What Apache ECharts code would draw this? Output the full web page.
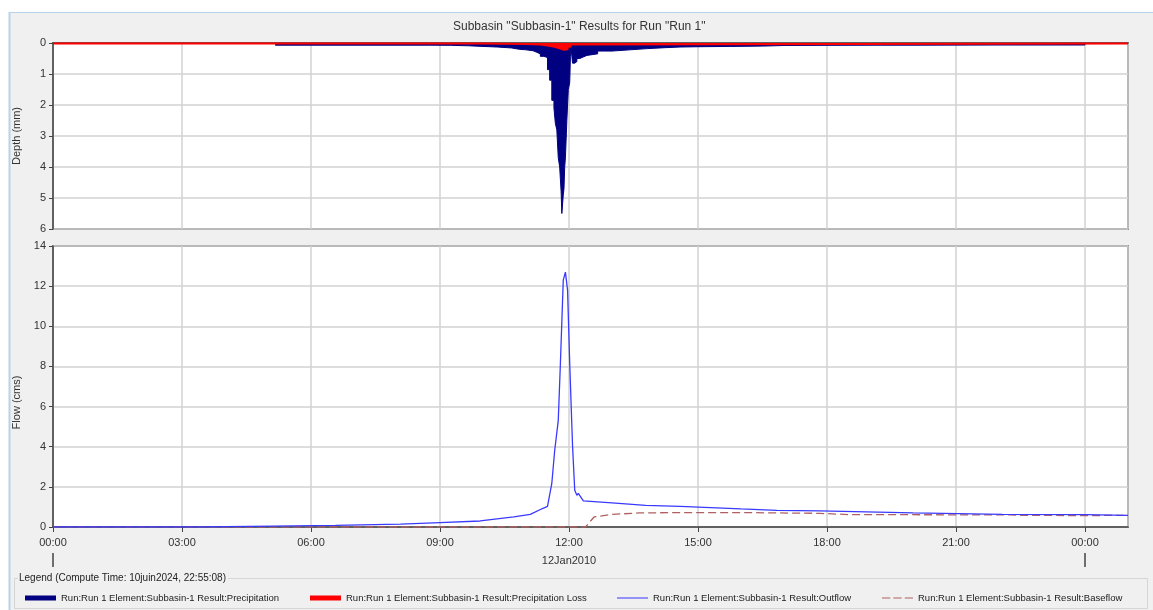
<!DOCTYPE html>
<html>
<head>
<meta charset="utf-8">
<script src="https://cdn.jsdelivr.net/npm/echarts@6/dist/echarts.min.js"></script>
<style>
html,body{margin:0;padding:0;background:#fff;}
#c{width:1153px;height:610px;}
</style>
</head>
<body>
<div id="c"></div>
<script>
// ---------- data (times as HH:MM on 12Jan2010, "24:00"+ = next day) ----------
const chartTitle = 'Subbasin "Subbasin-1" Results for Run "Run 1"';
const dateLabel = '12Jan2010';
const legendTitle = 'Legend (Compute Time: 10juin2024, 22:55:08)';
const seriesNames = [
  'Run:Run 1 Element:Subbasin-1 Result:Precipitation',
  'Run:Run 1 Element:Subbasin-1 Result:Precipitation Loss',
  'Run:Run 1 Element:Subbasin-1 Result:Outflow',
  'Run:Run 1 Element:Subbasin-1 Result:Baseflow'
];

const precipTimes = ['05:10','06:00','07:00','08:00','08:45','09:15','09:40','10:00','10:20','10:40','10:50','11:00','11:10','11:15','11:20','11:25','11:30','11:33','11:36','11:39','11:41','11:43','11:45','11:47','11:49','11:50','11:51','11:52','11:53','11:54','11:55','11:57','11:59','12:01','12:02','12:03','12:05','12:08','12:11','12:15','12:20','12:25','12:40','13:00','13:25','13:50','14:15','14:35','15:00','15:45','16:30','17:00','18:00','19:15','20:00','22:00','24:00'];
const precipDepth = [0.07,0.07,0.07,0.07,0.075,0.09,0.11,0.13,0.16,0.20,0.22,0.25,0.30,0.35,0.43,0.47,0.86,1.2,1.85,2.1,2.6,2.8,3.7,4.0,4.8,5.5,5.45,4.9,4.7,4.0,3.7,2.5,1.5,1.28,0.43,0.2,0.65,0.6,0.5,0.45,0.4,0.35,0.26,0.22,0.18,0.15,0.13,0.12,0.11,0.10,0.08,0.075,0.07,0.07,0.065,0.065,0];

const lossTimes = ['00:00','08:00','10:00','11:00','11:20','11:30','11:40','11:48','11:53','11:58','12:02','12:10','25:00'];
const lossDepth = [0.02,0.02,0.03,0.05,0.08,0.12,0.18,0.22,0.20,0.12,0.05,0.02,0.02];

const flowTimes = ['00:00','03:28','03:29','05:07','05:08','06:34','06:35','08:05','09:00','09:56','10:43','11:06','11:23','11:30','11:36','11:40','11:45','11:48','11:52','11:55','11:58','12:01','12:05','12:08','12:11','12:13','12:20','13:00','13:47','14:35','16:00','16:50','17:50','18:55','20:00','22:05','24:00','25:00'];
const outflow = [0,0,0.04,0.04,0.08,0.08,0.12,0.14,0.22,0.30,0.50,0.63,0.92,1.03,2.17,3.8,5.3,8.15,12.3,12.7,11.8,8.15,4.0,1.83,1.58,1.68,1.3,1.2,1.08,1.03,0.9,0.83,0.8,0.75,0.7,0.63,0.62,0.58];

const baseTimes = ['00:00','12:23','12:35','13:00','13:38','14:35','16:00','17:50','18:30','22:15','22:30','24:00','25:00'];
const baseflow = [0,0,0.5,0.63,0.70,0.72,0.72,0.68,0.62,0.60,0.58,0.57,0.58];

// ---------- helpers ----------
function hrs(s){ const p = s.split(':').map(Number); return p[0] + p[1]/60; }
function pairs(t, v){ return t.map((s,i)=>[hrs(s), v[i]]); }
function hhmm(v){ const h = ((Math.round(v) % 24) + 24) % 24; return (h<10?'0':'') + h + ':00'; }

const FONT = 'Liberation Sans, Arial, sans-serif';
const gridLine = {show:true, lineStyle:{color:'#d2d2d2', width:1.5}};
const axisLineDark = {show:true, lineStyle:{color:'#444', width:1.5}};
const legendText = {fontFamily: FONT, fontSize: 9.5, color: '#222'};

const chart = echarts.init(document.getElementById('c'), null, {renderer:'canvas'});

const option = {
  backgroundColor: '#ffffff',
  animation: false,
  title: {
    text: chartTitle, left: 448, top: 16,
    textStyle: {fontFamily: FONT, fontSize: 12, fontWeight: 'normal', color: '#333'}
  },
  grid: [
    {left: 53, right: 25, top: 43, height: 186, show: true, backgroundColor: '#fff', borderColor: '#444', borderWidth: 1.5, containLabel: false},
    {left: 53, right: 25, top: 246, height: 281, show: true, backgroundColor: '#fff', borderColor: '#444', borderWidth: 1.5, containLabel: false}
  ],
  xAxis: [
    {type: 'value', gridIndex: 0, min: 0, max: 25, interval: 3, axisLine: axisLineDark,
     axisTick: {show: false}, axisLabel: {show: false}, splitLine: gridLine},
    {type: 'value', gridIndex: 1, min: 0, max: 25, interval: 3, axisLine: axisLineDark,
     axisTick: {show: true, length: 5, lineStyle: {color: '#444'}},
     axisLabel: {show: true, margin: 10, fontFamily: FONT, fontSize: 11, color: '#333', formatter: hhmm, showMaxLabel: false},
     splitLine: gridLine}
  ],
  yAxis: [
    {type: 'value', gridIndex: 0, min: 0, max: 6, interval: 1, inverse: true,
     name: 'Depth (mm)', nameLocation: 'middle', nameGap: 31,
     nameTextStyle: {fontFamily: FONT, fontSize: 11, color: '#333'},
     axisLine: axisLineDark, axisTick: {show: true, length: 4, lineStyle: {color: '#444'}},
     axisLabel: {margin: 7, fontFamily: FONT, fontSize: 11, color: '#333'}, splitLine: gridLine},
    {type: 'value', gridIndex: 1, min: 0, max: 14, interval: 2,
     name: 'Flow (cms)', nameLocation: 'middle', nameGap: 31,
     nameTextStyle: {fontFamily: FONT, fontSize: 11, color: '#333', padding: [0, 32, 0, 0]},
     axisLine: axisLineDark, axisTick: {show: true, length: 4, lineStyle: {color: '#444'}},
     axisLabel: {margin: 7, fontFamily: FONT, fontSize: 11, color: '#333'}, splitLine: gridLine}
  ],
  legend: [
    {data: [seriesNames[0]], left: 20, top: 588, icon: 'rect', itemWidth: 31, itemHeight: 5, itemGap: 0,
     textStyle: legendText, selectedMode: false},
    {data: [seriesNames[1]], left: 305, top: 588, icon: 'rect', itemWidth: 31, itemHeight: 5, itemGap: 0,
     textStyle: legendText, selectedMode: false},
    {data: [seriesNames[2]], left: 612, top: 588, icon: 'path://M0,0H30V1H0Z', itemWidth: 31, itemHeight: 2, itemGap: 0,
     textStyle: legendText, selectedMode: false},
    {data: [seriesNames[3]], left: 877, top: 588, icon: 'path://M0,0H8V1H0Z M11,0H19V1H11Z M22,0H30V1H22Z', itemWidth: 31, itemHeight: 2, itemGap: 0,
     textStyle: legendText, selectedMode: false}
  ],
  series: [
    {name: seriesNames[0], type: 'line', xAxisIndex: 0, yAxisIndex: 0, step: 'end', symbol: 'none',
     data: pairs(precipTimes, precipDepth), color: '#000080',
     lineStyle: {color: '#000080', width: 1}, areaStyle: {color: '#000080', opacity: 1}, z: 2},
    {name: seriesNames[1], type: 'line', xAxisIndex: 0, yAxisIndex: 0, step: 'end', symbol: 'none',
     data: pairs(lossTimes, lossDepth), color: '#ff0000',
     lineStyle: {color: '#ff0000', width: 2}, areaStyle: {color: '#ff0000', opacity: 1}, z: 3},
    {name: seriesNames[2], type: 'line', xAxisIndex: 1, yAxisIndex: 1, symbol: 'none',
     data: pairs(flowTimes, outflow), color: '#3a3aff',
     lineStyle: {color: '#3a3aff', width: 1.3}, z: 3},
    {name: seriesNames[3], type: 'line', xAxisIndex: 1, yAxisIndex: 1, symbol: 'none',
     data: pairs(baseTimes, baseflow), color: '#b06060',
     lineStyle: {color: '#b06060', width: 1.3, type: [8, 4]}, z: 2}
  ]
};
chart.setOption(option);

// panel decoration, date label and day-boundary ticks positioned from the axis scale
const x12 = chart.convertToPixel({xAxisIndex: 1}, 12);
const xDay0 = chart.convertToPixel({xAxisIndex: 1}, 0);
const xDay1 = chart.convertToPixel({xAxisIndex: 1}, 24);
chart.setOption({
  graphic: [
    {type: 'rect', z: -10, silent: true, shape: {x: 9, y: 12, width: 1150, height: 600}, style: {fill: '#f0f0f0'}},
    {type: 'line', z: -9, silent: true, shape: {x1: 9, y1: 12.5, x2: 1153, y2: 12.5}, style: {stroke: '#b9d1ea', lineWidth: 1}},
    {type: 'line', z: -9, silent: true, shape: {x1: 9.5, y1: 12, x2: 9.5, y2: 610}, style: {stroke: '#b9d1ea', lineWidth: 2}},
    {type: 'text', silent: true, x: x12, y: 561, style: {text: dateLabel, fontFamily: FONT, fontSize: 11, fill: '#333', textAlign: 'center', textVerticalAlign: 'middle'}},
    {type: 'line', silent: true, shape: {x1: xDay0, y1: 553, x2: xDay0, y2: 567}, style: {stroke: '#444', lineWidth: 1.5}},
    {type: 'line', silent: true, shape: {x1: xDay1, y1: 553, x2: xDay1, y2: 567}, style: {stroke: '#444', lineWidth: 1.5}},
    {type: 'rect', z: -8, silent: true, shape: {x: 14.5, y: 578.5, width: 1133, height: 30}, style: {fill: 'none', stroke: '#d5d5d5', lineWidth: 1}},
    {type: 'text', silent: true, x: 18, y: 578, style: {text: legendTitle, fontFamily: FONT, fontSize: 10, fill: '#222', textVerticalAlign: 'middle', backgroundColor: '#f0f0f0', padding: [0, 2, 0, 1]}}
  ]
});
</script>
</body>
</html>
